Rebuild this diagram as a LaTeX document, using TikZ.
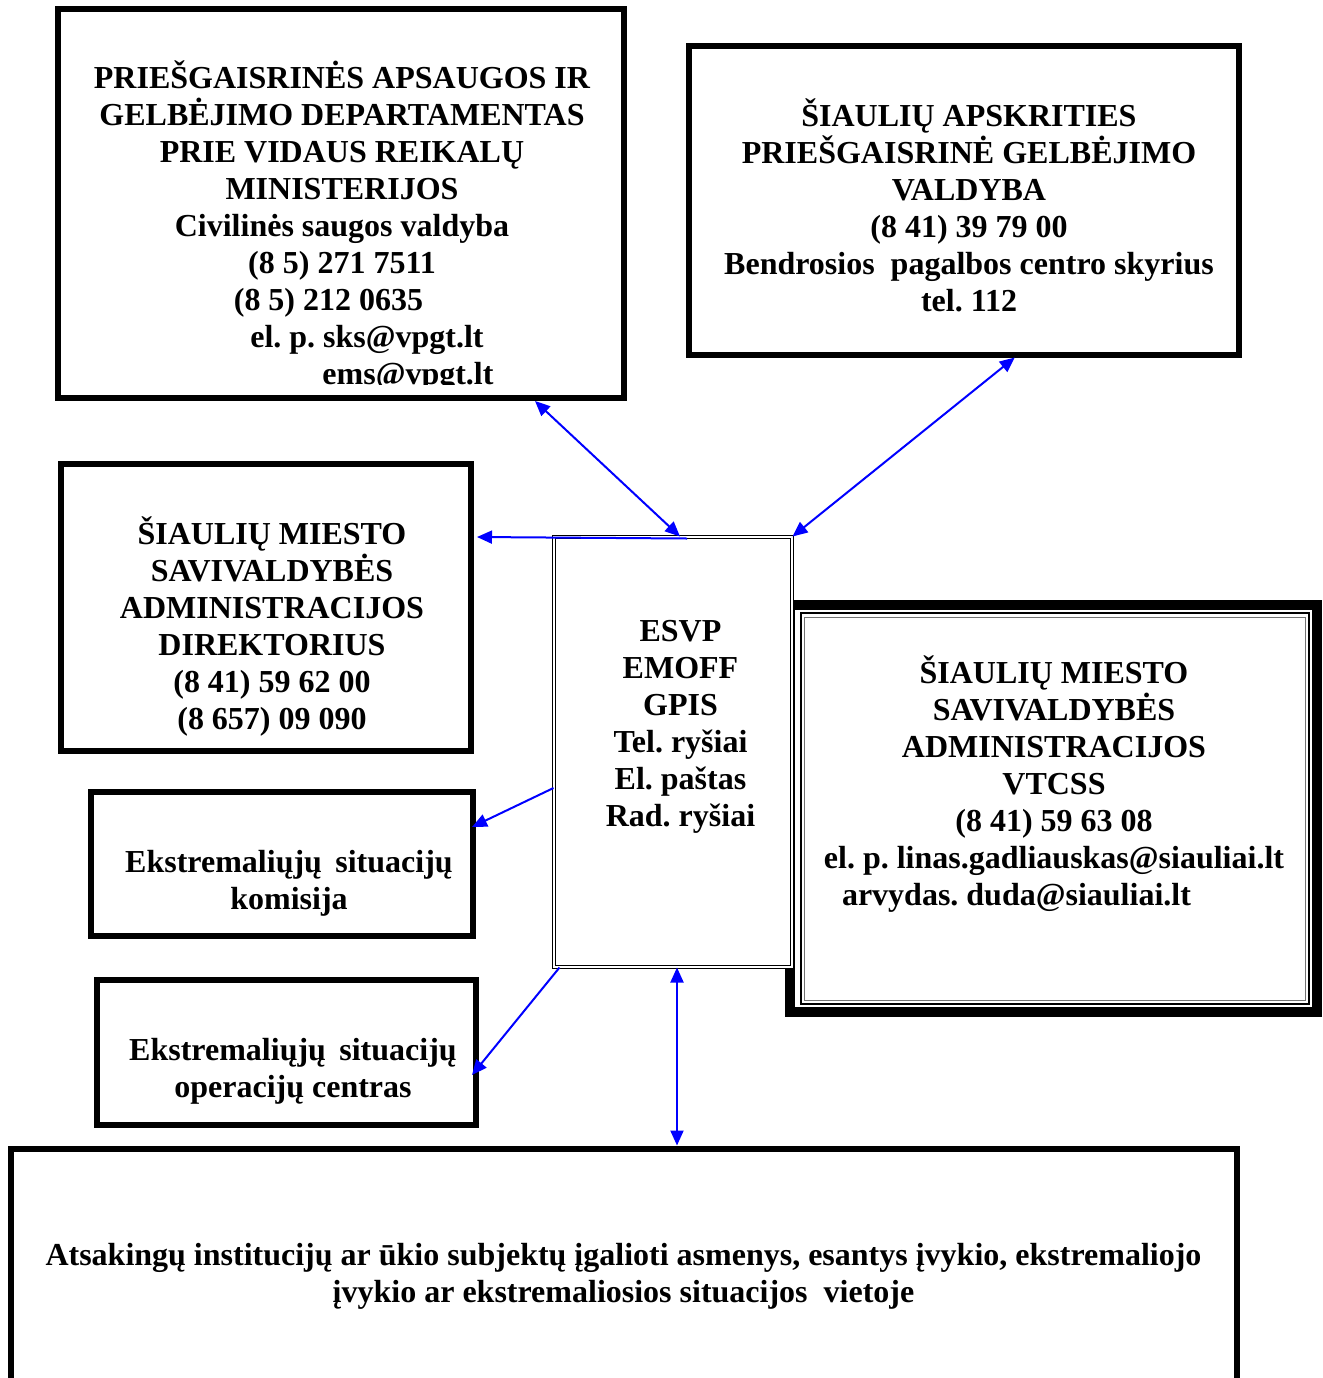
\documentclass[tikz,border=0pt]{standalone}
\usepackage{fontspec}
\setmainfont{Liberation Serif}
\usetikzlibrary{arrows.meta,calc}
\newcommand\fst{\rule{0pt}{25pt}}
\frenchspacing
\begin{document}
\begin{tikzpicture}[x=0.75pt,y=-0.75pt,
  >={Triangle[length=11.25pt,width=9.75pt]},
  box/.style={draw=black,line width=4.5pt,rectangle,inner sep=0pt,fill=white},
  txt/.style={font=\bfseries\fontsize{24pt}{27.75pt}\selectfont\frenchspacing,align=center,anchor=north,inner sep=0pt},
  link/.style={draw=blue,line width=1.5pt}]
\useasboundingbox (0,0) rectangle (1322,1378);
\fill[white] (0,0) rectangle (1322,1378);

% boxes
\node[box,minimum width=566*0.75pt,minimum height=389*0.75pt] (tl) at (341,203.5) {};
\node[box,minimum width=550.5*0.75pt,minimum height=308.5*0.75pt] (tr) at (963.75,200.25) {};
\node[box,minimum width=410*0.75pt,minimum height=287*0.75pt] (lm) at (266,607.5) {};
\node[box,minimum width=382*0.75pt,minimum height=144*0.75pt] (kom) at (282,864) {};
\node[box,minimum width=379*0.75pt,minimum height=145*0.75pt] (opc) at (286.5,1052) {};
\node[box,minimum width=1226*0.75pt,minimum height=241.5*0.75pt] (bot) at (624,1269.25) {};

% VTCSS box: thick-thin-thin border
\node[box,line width=7.5pt,minimum width=527*0.75pt,minimum height=407*0.75pt] (vt) at (1053.5,808.5) {};
\node[draw=black,line width=1.5pt,inner sep=0pt,minimum width=507.5*0.75pt,minimum height=391.2*0.75pt] (vtb) at (1054.75,808.1) {};
\node[draw=black!55,line width=0.75pt,inner sep=0pt,minimum width=501.5*0.75pt,minimum height=383.8*0.75pt] (vtg) at (1054.75,808.9) {};

% ESVP box (double thin border)
\node[draw=black,double=white,line width=0.75pt,double distance=1.5pt,fill=white,inner sep=0pt,
      minimum width=238*0.75pt,minimum height=430*0.75pt] (esvp) at (673,752) {};

% texts
\begin{scope}
\clip ($(tl.north west)+(6,6)$) rectangle ($(tl.south east)+(-6,-17)$);
\node[txt] (tlt) at (342,55) {\fst PRIEŠGAISRINĖS APSAUGOS IR\\ GELBĖJIMO DEPARTAMENTAS\\ PRIE VIDAUS REIKALŲ\\ MINISTERIJOS\\ Civilinės saugos valdyba\\ (8 5) 271 7511\\ (8 5) 212 0635\hspace*{20.25pt}\null\\ \null\hspace*{37.5pt}el. p. sks@vpgt.lt\\ \null\hspace*{99pt}ems@vpgt.lt};
\end{scope}
\node[txt] (trt) at (969,93.2) {\fst ŠIAULIŲ APSKRITIES\\ PRIEŠGAISRINĖ GELBĖJIMO\\ VALDYBA\\ (8 41) 39 79 00\\ Bendrosios\ \ pagalbos centro skyrius\\ tel. 112};
\node[txt] (lmt) at (272,510.7) {\fst ŠIAULIŲ MIESTO\\ SAVIVALDYBĖS\\ ADMINISTRACIJOS\\ DIREKTORIUS\\ (8 41) 59 62 00\\ (8 657) 09 090};
\node[txt] (komt) at (289,838.7) {\fst Ekstremaliųjų\hspace{.42em}situacijų\\ komisija};
\node[txt] (opct) at (293,1026.7) {\fst Ekstremaliųjų\hspace{.42em}situacijų\\ operacijų centras};
\node[txt] (esvpt) at (680.5,607.7) {\fst ESVP\\ EMOFF\\ GPIS\\ Tel. ryšiai\\ El. paštas\\ Rad. ryšiai};
\node[txt] (vtt) at (1054,650) {\fst ŠIAULIŲ MIESTO\\ SAVIVALDYBĖS\\ ADMINISTRACIJOS\\ VTCSS\\ (8 41) 59 63 08\\ el. p. linas.gadliauskas@siauliai.lt\\ arvydas. duda@siauliai.lt\hspace*{56.25pt}\null};
\node[txt] (bott) at (623.5,1231.7) {\fst Atsakingų institucijų ar ūkio subjektų įgalioti asmenys, esantys įvykio, ekstremaliojo\\ įvykio ar ekstremaliosios situacijos\ \ vietoje};

% connectors
\draw[link,<->] ($(tl.south)+(194,0)$) -- ($(esvp.north)+(7,0)$);
\draw[link,<->] ($(tr.south)+(51,0)$) -- (esvp.north east);
\draw[link,->] ($(esvp.north)+(14,2)$) -- ($(lm.east)+(3,-70.5)$);
\draw[link,->] ($(esvp.west)+(0,36)$) -- ($(kom.east)+(-4,-37)$);
\draw[link,->] ($(esvp.south west)+(6,0)$) -- ($(opc.east)+(-7,23)$);
\draw[link,<->] ($(esvp.south)+(4,0)$) -- ($(bot.north)+(53,0)$);
\end{tikzpicture}
\end{document}
